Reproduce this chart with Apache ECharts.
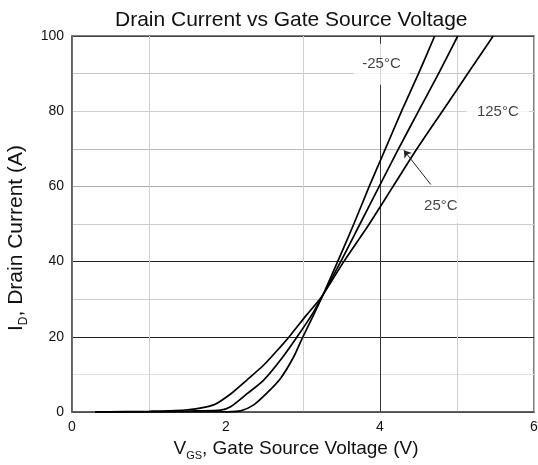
<!DOCTYPE html>
<html>
<head>
<meta charset="utf-8">
<script src="https://cdn.jsdelivr.net/npm/echarts@6/dist/echarts.min.js"></script>
<style>
html, body { margin: 0; padding: 0; background: #fff; }
#chartDIV { width: 538px; height: 465px; }
</style>
</head>
<body>
<div id="chartDIV"></div>
<script>
// curves, [Vgs, Id]
var curveNeg25 = [[0.3,0],[1.5,0],[2.0,0.05],[2.19,0.3],[2.36,1.9],[2.53,5],[2.71,9],[2.88,14.7],[2.99,19.6],[3.14,25.9],[3.27,31.6],[3.45,40],[3.66,50],[3.86,60],[4.07,70],[4.28,80],[4.50,90],[4.71,100]];
var curve25 = [[0.3,0],[1.2,0.1],[1.6,0.3],[1.93,0.5],[2.06,1.4],[2.27,4.8],[2.49,8.5],[2.71,13.9],[2.92,19.9],[3.14,26.7],[3.49,40],[3.74,50],[3.99,60],[4.24,70],[4.50,80],[4.76,90],[5.01,100]];
var curve125 = [[0.3,0],[1.0,0.2],[1.5,0.6],[1.84,1.9],[2.06,4.8],[2.27,8.5],[2.49,12.5],[2.71,17.4],[2.84,20.5],[3.05,25.9],[3.23,30.3],[3.53,40],[3.86,50],[4.17,60],[4.48,70],[4.81,80],[5.14,90],[5.47,100]];

var curveNames = ['-25°C', '25°C', '125°C'];
// where the temperature labels sit, in data units
var labelSpots = [[4.02,92.5],[4.79,54.9],[5.53,79.7]];
var arrowFrom = [4.66,60.5];
var arrowTo = [4.31,69.6];

var xLineColors = ['#bbb','#cfcfcf','rgba(0,0,0,0)','#cfcfcf','#333','#cfcfcf','#bbb'];
var yLineColors = ['#444','#e2e2e2','#222','#cccccc','#222','#cccccc','#aaaaaa','#bbbbbb','#d0d0d0','#c4c4c4','#444'];

var font = 'Liberation Sans, Arial, sans-serif';

var myChart = echarts.init(document.getElementById('chartDIV'));

function curveSeries(name, data) {
    return {
        name: name,
        type: 'line',
        data: data,
        smooth: 0.25,
        showSymbol: false,
        z: 3,
        lineStyle: { color: '#000', width: 1.7 }
    };
}

var labelPadding = [
    [16, 9, 10, 9],
    [10, 8, 10, 8],
    [10, 10, 10, 10]
];

var option = {
    animation: false,
    title: {
        text: 'Drain Current vs Gate Source Voltage',
        left: 110,
        top: 5,
        textStyle: { fontFamily: font, fontSize: 21, fontWeight: 'normal', color: '#111' }
    },
    grid: {
        left: 72, right: 4, top: 36, bottom: 53,
        outerBoundsMode: 'none',
        show: true, borderColor: '#555', borderWidth: 1.5
    },
    xAxis: {
        type: 'value',
        min: 0, max: 6, interval: 1,
        name: '{a|V}{s|GS}{a|, Gate Source Voltage (V)}',
        nameLocation: 'middle',
        nameGap: 24,
        nameTextStyle: {
            padding: [0, 14, 0, 0],
            rich: {
                a: { fontFamily: font, fontSize: 19, color: '#111' },
                s: { fontFamily: font, fontSize: 11, color: '#111', padding: [14, 0, 0, 0] }
            }
        },
        axisLine: { lineStyle: { color: '#555', width: 1.5 } },
        axisTick: { show: false },
        axisLabel: {
            fontFamily: font, fontSize: 14, color: '#111', margin: 8,
            formatter: function (v) { return v % 2 === 0 ? String(v) : ''; }
        },
        splitLine: { show: true, lineStyle: { color: xLineColors, width: 1 } }
    },
    yAxis: {
        type: 'value',
        min: 0, max: 100, interval: 10,
        name: '{a|I}{s|D}{a|, Drain Current (A)}',
        nameLocation: 'middle',
        nameGap: 40,
        nameTextStyle: {
            padding: [0, 28, 0, 0],
            rich: {
                a: { fontFamily: font, fontSize: 21, color: '#111' },
                s: { fontFamily: font, fontSize: 12, color: '#111', padding: [15, 0, 0, 0] }
            }
        },
        axisLine: { lineStyle: { color: '#555', width: 1.5 } },
        axisTick: { show: false },
        axisLabel: {
            fontFamily: font, fontSize: 14, color: '#111', margin: 8,
            formatter: function (v) { return v % 20 === 0 ? String(v) : ''; }
        },
        splitLine: { show: true, lineStyle: { color: yLineColors, width: 1 } }
    },
    series: [
        {
            type: 'scatter',
            z: 1,
            symbolSize: 0,
            silent: true,
            data: labelSpots.map(function (p, i) {
                return {
                    value: p,
                    label: {
                        show: true,
                        position: 'inside',
                        formatter: curveNames[i],
                        fontFamily: font, fontSize: 15, color: '#111',
                        backgroundColor: '#fff',
                        padding: labelPadding[i]
                    }
                };
            }),
            markLine: {
                silent: true,
                symbol: ['none', 'arrow'],
                symbolSize: 7,
                lineStyle: { color: '#222', width: 1, type: 'solid' },
                label: { show: false },
                data: [[{ coord: arrowFrom }, { coord: arrowTo }]]
            }
        },
        curveSeries(curveNames[0], curveNeg25),
        curveSeries(curveNames[1], curve25),
        curveSeries(curveNames[2], curve125)
    ]
};

myChart.setOption(option);
</script>
</body>
</html>
